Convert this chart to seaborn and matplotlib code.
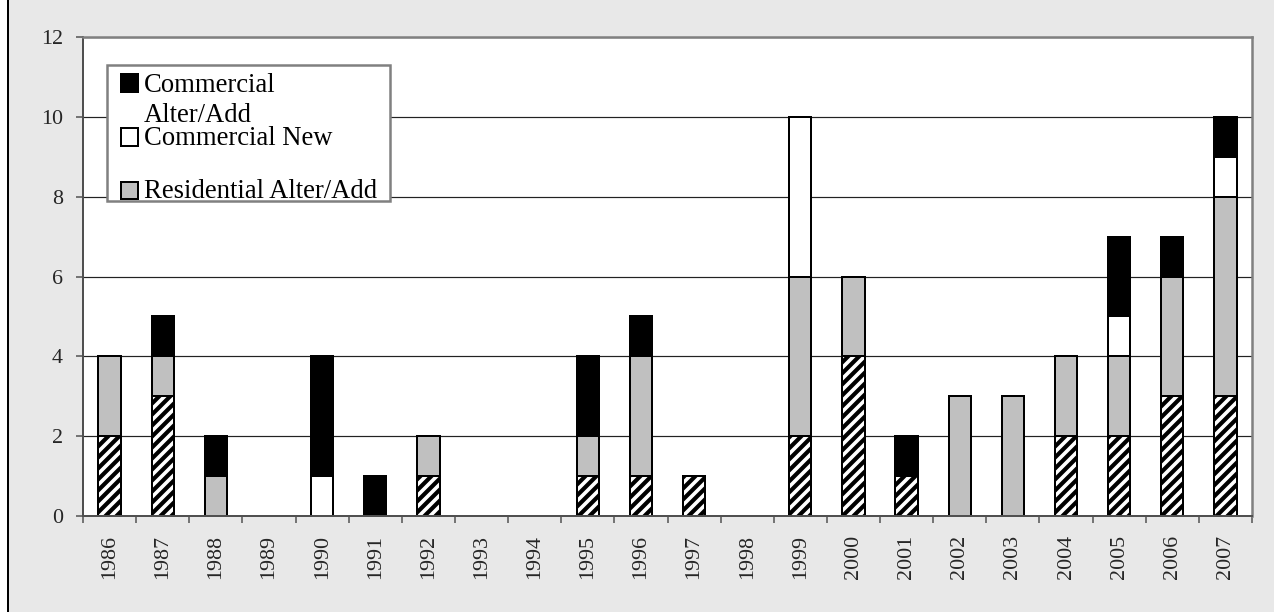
import numpy as np
import pandas as pd
import matplotlib
matplotlib.use("Agg")
import matplotlib.pyplot as plt
import matplotlib.colors as mcolors
from matplotlib.patches import Rectangle
import seaborn as sns

# ---------------- data ----------------
years = [1986, 1987, 1988, 1989, 1990, 1991, 1992, 1993, 1994, 1995, 1996,
         1997, 1998, 1999, 2000, 2001, 2002, 2003, 2004, 2005, 2006, 2007]
residential_new = [2, 3, 0, 0, 0, 0, 1, 0, 0, 1, 1, 1, 0, 2, 4, 1, 0, 0, 2, 2, 3, 3]
residential_alter = [2, 1, 1, 0, 0, 0, 1, 0, 0, 1, 3, 0, 0, 4, 2, 0, 3, 3, 2, 2, 3, 5]
commercial_new = [0, 0, 0, 0, 1, 0, 0, 0, 0, 0, 0, 0, 0, 4, 0, 0, 0, 0, 0, 1, 0, 1]
commercial_alter = [0, 1, 1, 0, 3, 1, 0, 0, 0, 2, 1, 0, 0, 0, 0, 1, 0, 0, 0, 2, 1, 1]
y_ticks = [0, 2, 4, 6, 8, 10, 12]
legend_labels = ["Commercial", "Alter/Add", "Commercial New", "Residential Alter/Add"]

# ---------------- setup ----------------
DPI = 132
W, H = 1274, 612


def pt(px):
    return px * 72.0 / DPI


def fx(px):
    return px / W


def fy(py):
    return 1 - py / H


sns.set_style("white")
plt.rcParams["font.family"] = ["Liberation Serif", "DejaVu Serif"]
plt.rcParams["hatch.linewidth"] = pt(3.6)

df = pd.DataFrame({
    "Year": [str(y) for y in years],
    "Residential New": residential_new,
    "Residential Alter/Add": residential_alter,
    "Commercial New": commercial_new,
    "Commercial Alter/Add": commercial_alter,
})

fig = plt.figure(figsize=(W / DPI, H / DPI), dpi=DPI)
fig.patch.set_facecolor("white")
bg = Rectangle((fx(7.5), -0.1), 1.5, 1.5, transform=fig.transFigure,
               facecolor="#e8e8e8", edgecolor="black", linewidth=pt(2), zorder=-10)
fig.add_artist(bg)

ax = fig.add_axes([fx(83), fy(516), fx(1252) - fx(83), fy(37) - fy(516)])
ax.set_facecolor("white")
ax.set_axisbelow(True)

layers = [
    ("Residential New", "black", "////"),
    ("Residential Alter/Add", "#c0c0c0", None),
    ("Commercial New", "white", None),
    ("Commercial Alter/Add", "black", None),
]

bottom = np.zeros(len(years))
for col, colr, hatch in layers:
    n0 = len(ax.patches)
    sns.barplot(data=df, x="Year", y=col, bottom=bottom, color=colr, saturation=1,
                width=0.42, edgecolor="black", linewidth=pt(2), hatch=hatch,
                errorbar=None, ax=ax)
    for p in ax.patches[n0:]:
        if p.get_height() == 0:
            p.set_visible(False)
        if hatch:
            if hasattr(p, "set_hatchcolor"):
                p.set_hatchcolor("white")
            else:
                p._hatch_color = mcolors.to_rgba("white")
    bottom = bottom + df[col].to_numpy()

ax.set_xlabel("")
ax.set_ylabel("")
ax.set_xlim(-0.5, len(years) - 0.5)
ax.set_ylim(0, 12)
ax.set_yticks(y_ticks)
ax.yaxis.grid(True, color="#222222", linewidth=pt(1.2))
ax.xaxis.grid(False)

ax.set_xticks(range(len(years)))
ax.set_xticklabels([str(y) for y in years], rotation=90)
ax.set_xticks(np.arange(-0.5, len(years), 1.0), minor=True)
ax.tick_params(axis="x", which="major", length=0, pad=pt(19), labelsize=12)
ax.tick_params(axis="x", which="minor", length=pt(7), width=pt(1.5),
               color="#505050", direction="out", bottom=True)
ax.tick_params(axis="y", which="major", length=pt(7), width=pt(1.5), pad=pt(13),
               color="#505050", direction="out", left=True, labelsize=12)

for side in ["top", "right"]:
    ax.spines[side].set_color("#808080")
    ax.spines[side].set_linewidth(pt(2.5))
for side in ["left", "bottom"]:
    ax.spines[side].set_color("#505050")
    ax.spines[side].set_linewidth(pt(2))

# ---------------- legend (clipped box as in reference) ----------------
box = Rectangle((fx(107), fy(201.5)), fx(390) - fx(107), fy(65) - fy(201.5),
                transform=fig.transFigure, facecolor="white", edgecolor="#808080",
                linewidth=pt(2.5), zorder=5)
fig.add_artist(box)

sq_w = fx(138) - fx(121)
items = [("black", 74, 92), ("white", 128, 146), ("#c0c0c0", 182, 199)]
for colr, top, bot in items:
    fig.add_artist(Rectangle((fx(121), fy(bot)), sq_w, fy(top) - fy(bot),
                             transform=fig.transFigure, facecolor=colr,
                             edgecolor="black", linewidth=pt(2), zorder=6))

text_pos = [92.5, 122, 145, 198]
for lab, yb in zip(legend_labels, text_pos):
    t = fig.text(fx(144), fy(yb), lab, va="baseline", ha="left",
                 fontsize=14.5, color="black", zorder=7)
    t.set_clip_path(box)

fig.savefig("out.png", dpi=DPI)
